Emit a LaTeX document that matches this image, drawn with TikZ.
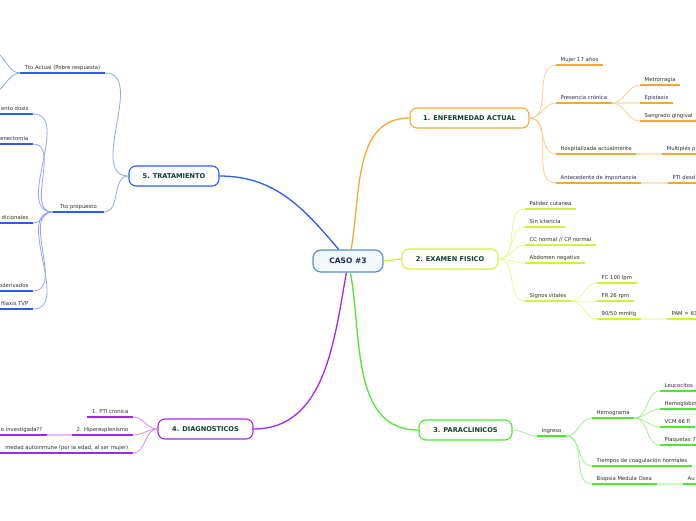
\documentclass[tikz,border=0pt]{standalone}
\usepackage{fontspec}
\setmainfont{DejaVu Sans}
\definecolor{caseblue}{HTML}{4A90D9}
\definecolor{casetext}{HTML}{1B2A4E}
\definecolor{maintext}{HTML}{0F3D32}
\definecolor{subtext}{HTML}{2A2A2A}
\definecolor{enforange}{HTML}{F7A731}
\definecolor{exyellow}{HTML}{D6F03A}
\definecolor{paragreen}{HTML}{4BE82E}
\definecolor{diagpurple}{HTML}{A525F0}
\definecolor{tratblue}{HTML}{2B5BF5}
\usetikzlibrary{shapes,arrows,positioning,calc}

\begin{document}
\begin{tikzpicture}[x=1pt, y=1pt,
    mainbox/.style={rectangle, rounded corners=7pt, draw=#1, fill=white, line width=1.1pt, minimum height=20pt, font=\fontsize{6.6}{7}\selectfont\bfseries, text=maintext},
    sub/.style={inner xsep=4.5pt, inner ysep=2.6pt, font=\fontsize{5.3}{6}\selectfont, text=subtext, text height=3.9pt, text depth=1pt},
    ul/.style={draw=#1, line width=1.7pt},
    topic/.style={sub, append after command={(\tikzlastnode.south west) edge[ul=#1] (\tikzlastnode.south east)}},
    branch/.style={draw=#1!55, line width=0.8pt},
    stem/.style={draw=#1, line width=1.3pt}]

    \useasboundingbox (0,0) rectangle (696,-520);
    \clip (0,0) rectangle (696,-520);
    \coordinate (ledge) at (-4,0);
    \coordinate (redge) at (700,0);

    % Centre
    \node[rectangle, rounded corners=8pt, draw=caseblue, fill=caseblue!6, line width=1.2pt, minimum width=70pt, minimum height=22pt, font=\fontsize{7.5}{8}\selectfont\bfseries, text=casetext] (caso) at (348,-261) {CASO \#3};

    % Main topics
    \node[mainbox=enforange, minimum width=119pt] (enf) at (469.5,-118) {1. ENFERMEDAD ACTUAL};
    \node[mainbox=exyellow, minimum width=96pt] (exa) at (450,-259) {2. EXAMEN FISICO};
    \node[mainbox=paragreen, minimum width=93pt] (para) at (465.5,-430) {3. PARACLINICOS};
    \node[mainbox=diagpurple, minimum width=95pt] (diag) at (205.5,-429) {4. DIAGNOSTICOS};
    \node[mainbox=tratblue, minimum width=90pt] (trat) at (174,-176) {5. TRATAMIENTO};

    \draw[stem=enforange] (caso.75) to[out=80,in=180] (enf.west);
    \draw[stem=exyellow] (caso.east) to[out=0,in=180] (exa.west);
    \draw[stem=paragreen] (caso.282) to[out=-80,in=180] (para.west);
    \draw[stem=diagpurple] (caso.262) to[out=-100,in=0] (diag.east);
    \draw[stem=tratblue] (caso.129) to[out=130,in=0] (trat.east);

    % 1. Enfermedad actual
    \node[topic=enforange, anchor=south west] (mujer) at (556,-65) {Mujer 17 años};
    \node[topic=enforange, anchor=south west] (presencia) at (556,-103) {Presencia crónica};
    \node[topic=enforange, anchor=south west] (metro) at (640,-85) {Metrorragia};
    \node[topic=enforange, anchor=south west] (epis) at (640,-103) {Epistaxis};
    \node[topic=enforange, anchor=south west] (sangrado) at (640,-121) {Sangrado gingival};
    \node[topic=enforange, anchor=south west] (hosp) at (556,-154) {Hospitalizada actualmente};
    \node[topic=enforange, anchor=south west] (multi) at (662,-154) {Multiples p};
    \node[topic=enforange, anchor=south west] (antec) at (556,-183) {Antecedente de importancia};
    \node[topic=enforange, anchor=south west] (ptidesde) at (668,-183) {PTI desd};
    \draw[ul=enforange] (multi.south east) -- (multi.south east -| redge);
    \draw[ul=enforange] (ptidesde.south east) -- (ptidesde.south east -| redge);

    \draw[branch=enforange] (enf.east) to[out=0,in=180] (mujer.south west);
    \draw[branch=enforange] (enf.east) to[out=0,in=180] (presencia.south west);
    \draw[branch=enforange] (enf.east) to[out=0,in=180] (hosp.south west);
    \draw[branch=enforange] (enf.east) to[out=0,in=180] (antec.south west);
    \draw[branch=enforange] (presencia.south east) to[out=0,in=180] (metro.south west);
    \draw[ul=enforange!30] (presencia.south east) -- (epis.south west);
    \draw[branch=enforange] (presencia.south east) to[out=0,in=180] (sangrado.south west);
    \draw[ul=enforange!30] (hosp.south east) -- (multi.south west);
    \draw[ul=enforange!30] (antec.south east) -- (ptidesde.south west);

    % 2. Examen fisico
    \node[topic=exyellow, anchor=south west] (palidez) at (525,-209) {Palidez cutanea};
    \node[topic=exyellow, anchor=south west] (ictericia) at (525,-227) {Sin ictericia};
    \node[topic=exyellow, anchor=south west] (ccnormal) at (525,-245) {CC normal // CP normal};
    \node[topic=exyellow, anchor=south west] (abdomen) at (525,-263) {Abdomen negativo};
    \node[topic=exyellow, anchor=south west] (signos) at (525,-301) {Signos vitales};
    \node[topic=exyellow, anchor=south west] (fc) at (597,-283) {FC 100 lpm};
    \node[topic=exyellow, anchor=south west] (fr) at (597,-301) {FR 26 rpm};
    \node[topic=exyellow, anchor=south west] (pa) at (597,-319) {90/50 mmHg};
    \node[topic=exyellow, anchor=south west] (pam) at (667,-319) {PAM = 63};
    \draw[ul=exyellow] (pam.south east) -- (pam.south east -| redge);

    \draw[branch=exyellow] (exa.east) to[out=0,in=180] (palidez.south west);
    \draw[branch=exyellow] (exa.east) to[out=0,in=180] (ictericia.south west);
    \draw[branch=exyellow] (exa.east) to[out=0,in=180] (ccnormal.south west);
    \draw[branch=exyellow] (exa.east) to[out=0,in=180] (abdomen.south west);
    \draw[branch=exyellow] (exa.east) to[out=0,in=180] (signos.south west);
    \draw[branch=exyellow] (signos.south east) to[out=0,in=180] (fc.south west);
    \draw[branch=exyellow] (signos.south east) to[out=0,in=180] (fr.south west);
    \draw[branch=exyellow] (signos.south east) to[out=0,in=180] (pa.south west);
    \draw[ul=exyellow!30] (pa.south east) -- (pam.south west);

    % 3. Paraclinicos
    \node[topic=paragreen, anchor=south west] (ingreso) at (537,-436) {Ingreso};
    \node[topic=paragreen, anchor=south west] (hemograma) at (592,-418) {Hemograma};
    \node[topic=paragreen, anchor=south west] (leuco) at (660,-391) {Leucocitos};
    \node[topic=paragreen, anchor=south west] (hb) at (660,-409) {Hemoglobin};
    \node[topic=paragreen, anchor=south west] (vcm) at (660,-427) {VCM 66 fl};
    \node[topic=paragreen, anchor=south west] (plaq) at (660,-445) {Plaquetas 7};
    \node[topic=paragreen, anchor=south west] (tiempos) at (592,-466) {Tiempos de coagulación normales};
    \node[topic=paragreen, anchor=south west] (biopsia) at (592,-484) {Biopsia Medula Osea};
    \node[topic=paragreen, anchor=south west] (au) at (683,-484) {Au};
    \draw[ul=paragreen] (leuco.south east) -- (leuco.south east -| redge);
    \draw[ul=paragreen] (hb.south east) -- (hb.south east -| redge);
    \draw[ul=paragreen] (plaq.south east) -- (plaq.south east -| redge);
    \draw[ul=paragreen] (au.south east) -- (au.south east -| redge);

    \draw[branch=paragreen] (para.east) to[out=0,in=180] (ingreso.south west);
    \draw[branch=paragreen] (ingreso.south east) to[out=0,in=180] (hemograma.south west);
    \draw[branch=paragreen] (ingreso.south east) to[out=0,in=180] (tiempos.south west);
    \draw[branch=paragreen] (ingreso.south east) to[out=0,in=180] (biopsia.south west);
    \draw[branch=paragreen] (hemograma.south east) to[out=0,in=180] (leuco.south west);
    \draw[branch=paragreen] (hemograma.south east) to[out=0,in=180] (hb.south west);
    \draw[branch=paragreen] (hemograma.south east) to[out=0,in=180] (vcm.south west);
    \draw[branch=paragreen] (hemograma.south east) to[out=0,in=180] (plaq.south west);
    \draw[ul=paragreen!30] (biopsia.south east) -- (au.south west);

    % 4. Diagnosticos
    \node[topic=diagpurple, anchor=south east] (pti) at (133,-417) {1. PTI cronica};
    \node[topic=diagpurple, anchor=south east] (hiper) at (133,-435) {2. Hiperesplenismo};
    \node[topic=diagpurple, anchor=south east] (causa) at (47,-435) {o investigada??};
    \node[topic=diagpurple, anchor=south east] (autoinm) at (133,-453) {medad autoinmune (por la edad, al ser mujer)};
    \draw[ul=diagpurple] (causa.south west) -- (causa.south west -| ledge);
    \draw[ul=diagpurple] (autoinm.south west) -- (autoinm.south west -| ledge);

    \draw[branch=diagpurple] (diag.west) to[out=180,in=0] (pti.south east);
    \draw[branch=diagpurple] (diag.west) to[out=180,in=0] (hiper.south east);
    \draw[branch=diagpurple] (diag.west) to[out=180,in=0] (autoinm.south east);
    \draw[ul=diagpurple!30] (hiper.south west) -- (causa.south east);

    % 5. Tratamiento
    \node[topic=tratblue, anchor=south east] (ttoact) at (105,-73) {Tto Actual (Pobre respuesta)};
    \node[topic=tratblue, anchor=south east, minimum width=51pt] (ttoprop) at (104,-212) {Tto propuesto};
    \coordinate (act1) at (-8,-52);
    \coordinate (act2) at (-8,-92);
    \node[topic=tratblue, anchor=south east] (aumento) at (33,-114) {ento dosis};
    \node[topic=tratblue, anchor=south east] (esplen) at (33,-144) {enectomia};
    \node[topic=tratblue, anchor=south east] (adic) at (33,-223) {dicionales};
    \node[topic=tratblue, anchor=south east] (hemoder) at (33,-291) {oderivados};
    \node[topic=tratblue, anchor=south east] (tvp) at (33,-309) {filaxis TVP};
    \draw[ul=tratblue] (aumento.south west) -- (aumento.south west -| ledge);
    \draw[ul=tratblue] (esplen.south west) -- (esplen.south west -| ledge);
    \draw[ul=tratblue] (adic.south west) -- (adic.south west -| ledge);
    \draw[ul=tratblue] (hemoder.south west) -- (hemoder.south west -| ledge);
    \draw[ul=tratblue] (tvp.south west) -- (tvp.south west -| ledge);

    \draw[branch=tratblue] (trat.west) to[out=180,in=0] (ttoact.south east);
    \draw[branch=tratblue] (trat.west) to[out=180,in=0] (ttoprop.south east);
    \draw[branch=tratblue] (ttoact.south west) to[out=180,in=0] (act1);
    \draw[branch=tratblue] (ttoact.south west) to[out=180,in=0] (act2);
    \draw[branch=tratblue] (ttoprop.south west) to[out=180,in=0] (aumento.south east);
    \draw[branch=tratblue] (ttoprop.south west) to[out=180,in=0] (esplen.south east);
    \draw[branch=tratblue] (ttoprop.south west) to[out=180,in=0] (adic.south east);
    \draw[branch=tratblue] (ttoprop.south west) to[out=180,in=0] (hemoder.south east);
    \draw[branch=tratblue] (ttoprop.south west) to[out=180,in=0] (tvp.south east);
  \end{tikzpicture}
\end{document}
